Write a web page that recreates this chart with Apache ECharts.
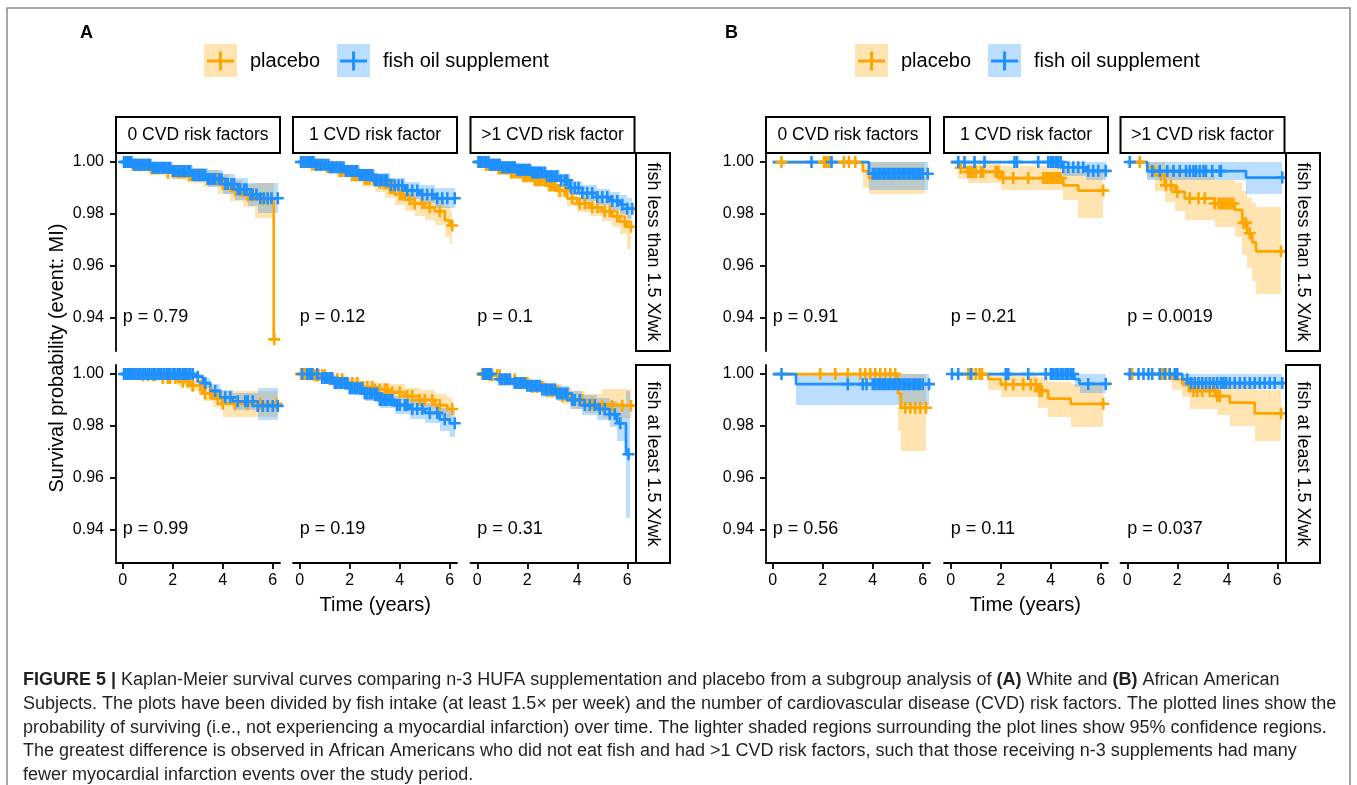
<!DOCTYPE html>
<html>
<head>
<meta charset="utf-8">
<script src="https://cdn.jsdelivr.net/npm/echarts@6/dist/echarts.min.js"></script>
<style>html,body{margin:0;padding:0;background:#fff}#chart{width:1357px;height:785px}</style>
</head>
<body>
<div id="chart"></div>
<script>
// ---------------- DATA ----------------
const xTicks = [0, 2, 4, 6];
const yTicks = [0.94, 0.96, 0.98, 1.00];
const riskFactorLabels = ['0 CVD risk factors', '1 CVD risk factor', '>1 CVD risk factor'];
const fishIntakeLabels = ['fish less than 1.5 X/wk', 'fish at least 1.5 X/wk'];
const armNames = ['placebo', 'fish oil supplement'];
const pValuesA = ['p = 0.79', 'p = 0.12', 'p = 0.1', 'p = 0.99', 'p = 0.19', 'p = 0.31'];
const pValuesB = ['p = 0.91', 'p = 0.21', 'p = 0.0019', 'p = 0.56', 'p = 0.11', 'p = 0.037'];

// step rows: [time, survival, lower95, upper95]; last row = end of follow-up
// ---- A (White), fish less than 1.5 X/wk ----
const A_less_0_placebo = [[0,1,1,1],[0.3,0.999,0.9975,1],[1.0,0.9975,0.9955,0.9995],[1.8,0.996,0.9935,0.9985],[2.6,0.995,0.992,0.9978],[3.2,0.9935,0.9902,0.9968],[3.8,0.9915,0.9878,0.9952],[4.3,0.989,0.9848,0.9932],[4.8,0.987,0.9825,0.9915],[5.3,0.9855,0.9785,0.992],[6.04,0.9315,0.9315,0.9315],[6.06,0.9315,0.9315,0.9315]];
const A_less_0_placeboCens = [0.15,0.25,0.4,0.55,0.7,0.8,0.95,1.15,1.25,1.4,1.5,1.65,1.8,2.05,2.2,2.3,2.4,2.5,2.65,2.75,2.9,3.0,3.15,3.4,3.5,3.6,3.75,4.0,4.2,4.5,4.7,5.0,5.2,5.6,5.8,6.06];
const A_less_0_fish = [[0,1,1,1],[0.4,0.999,0.998,1],[1.2,0.9978,0.996,0.9995],[2.0,0.9965,0.9942,0.9988],[2.8,0.995,0.9922,0.9978],[3.4,0.9935,0.9902,0.9968],[4.0,0.9915,0.9878,0.9952],[4.5,0.9895,0.9853,0.9937],[5.0,0.9875,0.983,0.992],[5.4,0.986,0.9805,0.9918],[6.2,0.986,0.9805,0.9918]];
const A_less_0_fishCens = [0.05,0.1,0.15,0.2,0.3,0.35,0.45,0.5,0.55,0.65,0.7,0.75,0.85,0.9,1.0,1.05,1.1,1.2,1.3,1.35,1.45,1.55,1.6,1.7,1.8,1.9,2.0,2.1,2.2,2.25,2.35,2.4,2.5,2.6,2.7,2.8,2.9,3.0,3.1,3.2,3.3,3.4,3.5,3.6,3.7,3.85,3.95,4.1,4.2,4.35,4.45,4.6,4.7,4.85,4.95,5.1,5.2,5.35,5.5,5.65,5.8,5.95,6.2];

const A_less_1_placebo = [[0,1,1,1],[0.5,0.999,0.998,1],[1.0,0.998,0.9962,0.9995],[1.5,0.9965,0.9942,0.9988],[2.0,0.995,0.9922,0.9978],[2.5,0.9935,0.9903,0.9967],[3.0,0.992,0.9885,0.9955],[3.4,0.99,0.9862,0.9938],[3.8,0.9875,0.9833,0.9917],[4.2,0.9855,0.981,0.99],[4.6,0.984,0.9793,0.9887],[5.0,0.9825,0.9775,0.9875],[5.4,0.981,0.9755,0.9862],[5.8,0.9775,0.971,0.9832],[6.0,0.9755,0.9685,0.9815],[6.1,0.9755,0.9685,0.9815]];
const A_less_1_placeboCens = [0.1,0.2,0.3,0.35,0.5,0.6,0.7,0.8,0.9,1.1,1.2,1.3,1.45,1.6,1.7,1.8,1.95,2.1,2.2,2.3,2.45,2.6,2.7,2.8,2.95,3.2,3.35,3.6,3.7,4.0,4.1,4.4,4.6,4.9,5.2,5.6,6.1];
const A_less_1_fish = [[0,1,1,1],[0.6,0.999,0.998,1],[1.2,0.998,0.9963,0.9995],[1.8,0.9965,0.9945,0.9985],[2.4,0.995,0.9927,0.9973],[3.0,0.993,0.9903,0.9957],[3.6,0.991,0.988,0.994],[4.2,0.989,0.9858,0.9922],[4.8,0.9875,0.984,0.991],[5.4,0.986,0.9822,0.9898],[6.2,0.986,0.9822,0.9898]];
const A_less_1_fishCens = [0.05,0.15,0.25,0.35,0.4,0.5,0.55,0.65,0.7,0.8,0.85,0.95,1.05,1.15,1.2,1.3,1.35,1.45,1.5,1.6,1.65,1.75,1.85,1.9,2.0,2.1,2.15,2.25,2.3,2.4,2.45,2.55,2.6,2.7,2.75,2.85,2.9,3.0,3.1,3.2,3.3,3.4,3.5,3.65,3.8,3.95,4.1,4.3,4.5,4.7,4.9,5.1,5.3,5.5,5.7,5.9,6.2];

const A_less_2_placebo = [[0,1,1,1],[0.3,0.999,0.998,1],[0.8,0.9975,0.996,0.999],[1.3,0.996,0.9942,0.9978],[1.8,0.9945,0.9925,0.9965],[2.3,0.993,0.9907,0.9953],[2.8,0.991,0.9885,0.9935],[3.2,0.989,0.9863,0.9917],[3.6,0.986,0.983,0.989],[4.0,0.984,0.9808,0.9872],[4.5,0.9825,0.979,0.986],[5.0,0.981,0.9772,0.9848],[5.4,0.979,0.9748,0.9832],[5.7,0.977,0.9722,0.9818],[6.0,0.975,0.9665,0.9795],[6.15,0.975,0.9665,0.9795]];
const A_less_2_placeboCens = [0.05,0.1,0.2,0.25,0.35,0.4,0.5,0.6,0.65,0.75,0.85,0.9,1.0,1.1,1.15,1.25,1.35,1.4,1.5,1.6,1.7,1.75,1.85,1.9,2.0,2.1,2.2,2.3,2.4,2.5,2.6,2.7,2.9,3.0,3.1,3.3,3.5,3.8,4.1,4.3,4.6,4.8,5.1,5.3,5.6,5.9,6.15];
const A_less_2_fish = [[0,1,1,1],[0.5,0.999,0.998,1],[1.0,0.998,0.9965,0.9995],[1.6,0.997,0.9952,0.9988],[2.2,0.996,0.994,0.998],[2.8,0.9945,0.9922,0.9968],[3.3,0.993,0.9905,0.9955],[3.7,0.99,0.9872,0.9928],[4.2,0.988,0.985,0.991],[4.8,0.9865,0.9833,0.9897],[5.3,0.985,0.9815,0.9885],[5.7,0.9835,0.9798,0.9872],[6.0,0.982,0.978,0.986],[6.2,0.982,0.978,0.986]];
const A_less_2_fishCens = [0.05,0.1,0.15,0.2,0.3,0.35,0.45,0.5,0.6,0.65,0.7,0.8,0.85,0.9,1.0,1.05,1.1,1.2,1.25,1.3,1.4,1.45,1.5,1.6,1.65,1.7,1.8,1.85,1.9,2.0,2.05,2.1,2.2,2.25,2.3,2.4,2.45,2.5,2.6,2.7,2.8,2.9,3.0,3.1,3.2,3.35,3.5,3.6,3.75,3.9,4.05,4.2,4.4,4.6,4.8,5.0,5.2,5.4,5.6,5.8,6.0,6.2];

// ---- A (White), fish at least 1.5 X/wk ----
const A_least_0_placebo = [[0,1,1,1],[0.8,0.9995,0.9988,1],[1.6,0.9985,0.9972,0.9998],[2.2,0.997,0.9952,0.9988],[2.7,0.9955,0.9933,0.9977],[3.2,0.9925,0.9897,0.9953],[3.6,0.9905,0.9873,0.9937],[4.0,0.9885,0.9835,0.9935],[6.15,0.9885,0.9835,0.9935]];
const A_least_0_placeboCens = [0.2,0.3,0.6,0.8,1.0,1.2,1.3,1.6,1.8,1.9,2.1,2.4,2.6,2.8,3.1,3.3,3.5,3.8,4.0,4.5,5.0,5.5,6.15];
const A_least_0_fish = [[0,1,1,1],[2.9,0.999,0.998,1],[3.2,0.9965,0.9945,0.9985],[3.5,0.9935,0.991,0.996],[3.9,0.991,0.988,0.994],[4.4,0.9895,0.9862,0.9928],[5.4,0.9877,0.9822,0.9945],[6.2,0.9877,0.9822,0.9945]];
const A_least_0_fishCens = [0.05,0.1,0.15,0.2,0.3,0.35,0.4,0.5,0.55,0.65,0.7,0.8,0.9,1.0,1.05,1.15,1.2,1.3,1.4,1.5,1.55,1.65,1.75,1.8,1.9,2.0,2.1,2.2,2.3,2.4,2.5,2.55,2.65,2.7,2.8,3.0,3.3,3.7,4.1,4.3,4.6,4.9,5.0,5.2,5.4,5.6,5.8,6.0,6.2];

const A_least_1_placebo = [[0,1,1,1],[0.6,0.9995,0.9988,1],[1.2,0.998,0.9965,0.9995],[1.8,0.9965,0.9945,0.9985],[2.4,0.995,0.9927,0.9973],[3.0,0.994,0.9913,0.9967],[3.6,0.993,0.99,0.996],[4.2,0.9915,0.9882,0.9948],[4.8,0.99,0.9862,0.9938],[5.4,0.988,0.9838,0.9922],[5.9,0.9865,0.982,0.991],[6.1,0.9865,0.982,0.991]];
const A_least_1_placeboCens = [0.05,0.1,0.2,0.3,0.4,0.5,0.6,0.7,0.75,0.9,1.0,1.2,1.3,1.5,1.7,1.9,2.1,2.3,2.5,2.7,2.9,3.0,3.2,3.4,3.5,3.7,4.0,4.3,4.5,4.8,5.0,5.3,5.6,6.1];
const A_least_1_fish = [[0,1,1,1],[0.8,0.9985,0.9972,0.9998],[1.4,0.9965,0.9945,0.9985],[2.0,0.9945,0.992,0.997],[2.6,0.9925,0.9897,0.9953],[3.2,0.99,0.9868,0.9932],[3.8,0.988,0.9845,0.9915],[4.4,0.9865,0.9828,0.9902],[5.0,0.985,0.981,0.989],[5.6,0.9825,0.978,0.987],[6.0,0.981,0.9758,0.9862],[6.2,0.981,0.9758,0.9862]];
const A_least_1_fishCens = [0.1,0.3,0.4,0.5,0.7,0.9,1.0,1.1,1.2,1.3,1.4,1.5,1.6,1.7,1.8,1.9,2.0,2.1,2.2,2.3,2.4,2.5,2.6,2.7,2.8,2.9,3.0,3.1,3.2,3.3,3.4,3.5,3.6,3.7,3.9,4.0,4.2,4.3,4.5,4.7,4.9,5.2,5.5,5.8,6.2];

const A_least_2_placebo = [[0,1,1,1],[0.5,0.9995,0.9988,1],[1.0,0.998,0.9965,0.9995],[1.6,0.9965,0.9945,0.9985],[2.2,0.995,0.9925,0.9975],[2.8,0.9935,0.9907,0.9963],[3.4,0.9915,0.9883,0.9947],[3.8,0.99,0.9865,0.9935],[4.3,0.9885,0.9848,0.9922],[5.0,0.9878,0.9832,0.9942],[6.15,0.9878,0.9832,0.9942]];
const A_least_2_placeboCens = [0.2,0.3,0.35,0.5,0.6,0.8,0.9,1.1,1.3,1.5,1.6,1.8,2.0,2.2,2.4,2.6,2.8,3.0,3.2,3.4,3.6,3.9,4.2,4.6,5.0,5.4,5.8,6.15];
const A_least_2_fish = [[0,1,1,1],[0.8,0.998,0.9965,0.9995],[1.4,0.9965,0.9945,0.9985],[2.0,0.9955,0.9932,0.9978],[2.6,0.994,0.9913,0.9967],[3.2,0.9925,0.9895,0.9955],[3.7,0.99,0.9865,0.9935],[4.2,0.988,0.9842,0.9918],[4.8,0.9865,0.9823,0.9907],[5.3,0.9845,0.9795,0.9895],[5.6,0.981,0.974,0.9882],[5.95,0.969,0.9445,0.9935],[6.1,0.969,0.9445,0.9935]];
const A_least_2_fishCens = [0.25,0.3,0.35,0.4,0.45,0.5,0.55,0.9,1.0,1.1,1.2,1.3,1.5,1.6,1.7,1.8,1.9,2.0,2.1,2.2,2.3,2.4,2.5,2.6,2.7,2.8,2.9,3.0,3.1,3.2,3.3,3.4,3.5,3.6,3.8,3.9,4.1,4.3,4.5,4.7,4.9,5.1,5.3,5.5,5.72,6.05];

// ---- B (African American), fish less than 1.5 X/wk ----
const B_less_0_placebo = [[0,1,1,1],[3.6,0.9965,0.99,1],[3.85,0.9938,0.9876,1],[6.1,0.9938,0.9876,1]];
const B_less_0_placeboCens = [0.35,2.05,2.15,2.25,2.85,3.05,3.3];
const B_less_0_fish = [[0,1,1,1],[3.85,0.9955,0.9893,1],[6.2,0.9955,0.9893,1]];
const B_less_0_fishCens = [1.55,2.35,4.0,4.1,4.2,4.3,4.4,4.5,4.6,4.7,4.8,4.9,5.0,5.1,5.2,5.3,5.4,5.5,5.6,5.7,5.8,5.9,6.0,6.2];

const B_less_1_placebo = [[0,1,1,1],[0.3,0.9978,0.9935,1],[0.7,0.9962,0.992,1],[2.0,0.9938,0.9893,0.9985],[4.5,0.991,0.9852,0.997],[5.1,0.989,0.9783,0.996],[6.1,0.989,0.9783,0.996]];
const B_less_1_placeboCens = [0.4,0.7,0.8,0.9,1.0,1.2,1.3,1.8,1.9,2.1,2.5,3.1,3.7,3.8,3.9,4.0,4.1,4.2,4.3,4.4,6.1];
const B_less_1_fish = [[0,1,1,1],[4.5,0.998,0.9948,1],[5.4,0.9966,0.9932,1],[6.2,0.9966,0.9932,1]];
const B_less_1_fishCens = [0.3,0.55,0.95,1.35,2.55,2.65,3.5,3.9,4.0,4.1,4.2,4.3,4.4,4.5,4.7,4.9,5.1,5.3,5.5,5.7,5.9,6.2];

const B_less_2_placebo = [[0,1,1,1],[0.8,0.998,0.994,1],[1.1,0.995,0.989,1],[1.5,0.991,0.9845,0.998],[1.9,0.9885,0.981,0.996],[2.3,0.986,0.9775,0.9945],[3.5,0.984,0.975,0.993],[4.3,0.9815,0.971,0.992],[4.6,0.9765,0.964,0.989],[4.8,0.9725,0.959,0.986],[5.0,0.969,0.954,0.984],[5.15,0.9655,0.949,0.9825],[6.15,0.9655,0.949,0.9825]];
const B_less_2_placeboCens = [0.5,1.35,1.55,1.75,2.0,2.5,2.85,3.1,3.5,3.65,3.75,3.85,3.95,4.05,4.15,4.25,4.65,4.75,4.9,6.15];
const B_less_2_fish = [[0,1,1,1],[0.8,0.9965,0.9932,1],[4.75,0.994,0.9875,1],[6.2,0.994,0.9875,1]];
const B_less_2_fishCens = [0.1,1.0,1.3,1.6,1.85,2.1,2.35,2.5,2.65,2.75,2.9,3.05,3.15,3.4,3.7,3.75,6.2];

// ---- B (African American), fish at least 1.5 X/wk ----
const B_least_0_placebo = [[0,1,1,1],[5.0,0.9925,0.978,1],[5.13,0.987,0.9703,1],[6.13,0.987,0.9703,1]];
const B_least_0_placeboCens = [1.9,2.5,3.0,3.5,3.7,3.9,4.1,4.3,4.5,4.7,4.9,5.3,5.5,5.7,5.9,6.13];
const B_least_0_fish = [[0,1,1,1],[0.93,0.9961,0.988,1],[6.25,0.9961,0.988,1]];
const B_least_0_fishCens = [0.35,3.0,3.6,3.75,4.0,4.1,4.2,4.3,4.4,4.5,4.6,4.7,4.8,4.9,5.0,5.1,5.2,5.3,5.4,5.5,5.6,5.7,5.8,5.9,6.0,6.25];

const B_least_1_placebo = [[0,1,1,1],[1.5,0.998,0.994,1],[2.0,0.996,0.991,1],[3.5,0.9935,0.987,0.999],[3.9,0.9905,0.9835,0.997],[4.8,0.9885,0.9795,0.996],[6.1,0.9885,0.9795,0.996]];
const B_least_1_placeboCens = [0.7,0.85,1.0,1.15,1.25,2.2,2.5,2.9,3.2,3.4,3.55,3.65,6.1];
const B_least_1_fish = [[0,1,1,1],[4.95,0.998,0.995,1],[5.15,0.9962,0.9925,1],[6.2,0.9962,0.9925,1]];
const B_least_1_fishCens = [0.05,0.3,0.8,2.2,2.3,3.1,3.8,4.0,4.1,4.2,4.3,4.4,4.5,4.6,4.7,4.8,4.9,5.5,6.2];

const B_least_2_placebo = [[0,1,1,1],[1.8,0.998,0.994,1],[2.2,0.9962,0.991,1],[2.5,0.9935,0.9865,0.999],[3.6,0.9915,0.984,0.998],[4.1,0.989,0.98,0.997],[5.1,0.9848,0.9742,0.994],[6.15,0.9848,0.9742,0.994]];
const B_least_2_placeboCens = [0.2,1.3,1.4,1.55,1.7,2.45,2.65,2.8,3.0,3.3,3.5,3.6,3.7,6.15];
const B_least_2_fish = [[0,1,1,1],[2.2,0.998,0.995,1],[2.45,0.9965,0.9942,1],[6.2,0.9965,0.9942,1]];
const B_least_2_fishCens = [0.1,0.45,0.65,0.85,1.0,1.3,1.5,1.7,1.9,2.0,2.4,2.55,2.7,2.85,3.0,3.15,3.3,3.45,3.6,3.75,3.85,3.95,4.1,4.3,4.5,4.7,4.9,5.1,5.3,5.5,5.7,5.9,6.2];

const captionLines = [
  '{b|FIGURE 5 |} Kaplan-Meier survival curves comparing n-3 HUFA supplementation and placebo from a subgroup analysis of {b|(A)} White and {b|(B)} African American',
  'Subjects. The plots have been divided by fish intake (at least 1.5\u00d7 per week) and the number of cardiovascular disease (CVD) risk factors. The plotted lines show the',
  'probability of surviving (i.e., not experiencing a myocardial infarction) over time. The lighter shaded regions surrounding the plot lines show 95% confidence regions.',
  'The greatest difference is observed in African Americans who did not eat fish and had >1 CVD risk factors, such that those receiving n-3 supplements had many',
  'fewer myocardial infarction events over the study period.'
];

// ---------------- PANEL TABLE ----------------
const panelTable = [
  ['A',0,0,pValuesA[0],A_less_0_placebo,A_less_0_placeboCens,A_less_0_fish,A_less_0_fishCens],
  ['A',0,1,pValuesA[1],A_less_1_placebo,A_less_1_placeboCens,A_less_1_fish,A_less_1_fishCens],
  ['A',0,2,pValuesA[2],A_less_2_placebo,A_less_2_placeboCens,A_less_2_fish,A_less_2_fishCens],
  ['A',1,0,pValuesA[3],A_least_0_placebo,A_least_0_placeboCens,A_least_0_fish,A_least_0_fishCens],
  ['A',1,1,pValuesA[4],A_least_1_placebo,A_least_1_placeboCens,A_least_1_fish,A_least_1_fishCens],
  ['A',1,2,pValuesA[5],A_least_2_placebo,A_least_2_placeboCens,A_least_2_fish,A_least_2_fishCens],
  ['B',0,0,pValuesB[0],B_less_0_placebo,B_less_0_placeboCens,B_less_0_fish,B_less_0_fishCens],
  ['B',0,1,pValuesB[1],B_less_1_placebo,B_less_1_placeboCens,B_less_1_fish,B_less_1_fishCens],
  ['B',0,2,pValuesB[2],B_less_2_placebo,B_less_2_placeboCens,B_less_2_fish,B_less_2_fishCens],
  ['B',1,0,pValuesB[3],B_least_0_placebo,B_least_0_placeboCens,B_least_0_fish,B_least_0_fishCens],
  ['B',1,1,pValuesB[4],B_least_1_placebo,B_least_1_placeboCens,B_least_1_fish,B_least_1_fishCens],
  ['B',1,2,pValuesB[5],B_least_2_placebo,B_least_2_placeboCens,B_least_2_fish,B_least_2_fishCens]
];

// ---------------- LAYOUT / STYLE ----------------
const FONT = "'Liberation Sans', Arial, Helvetica, sans-serif";
const CAP_FONT = "'Liberation Sans Narrow', 'Liberation Sans', Arial, sans-serif";
const TXT = '#000';
const ORANGE = '#FFA500', BLUE = '#1E90FF';
const ORANGE_BAND = 'rgba(255,165,0,0.3)', BLUE_BAND = 'rgba(30,144,255,0.3)';
const colLeft = {A: [116, 293, 470.5], B: [766, 944, 1120.5]};
const rowTop = [153, 365];
const PW = 164, PH = 198;
const X_MIN = -0.27, X_MAX = 6.29, Y_MIN = 0.927, Y_MAX = 1.0035;
const PLUS_SYMBOL = 'path://M4.7,0h2.6v4.7h4.7v2.6h-4.7v4.7h-2.6v-4.7h-4.7v-2.6h4.7z';
const PLUS_ICON = 'path://M0,8h27v3h-27z M12,0h3v19h-3z';

function survAt(steps, t) {
  let s = steps[0][1];
  for (const r of steps) { if (r[0] <= t + 1e-9) s = r[1]; else break; }
  return s;
}
function bandData(steps) {
  const out = [];
  for (let i = 0; i < steps.length - 1; i++) out.push([steps[i][0], steps[i + 1][0], steps[i][2], steps[i][3]]);
  return out;
}
function bandSeries(i, steps, fill) {
  return {
    type: 'custom', xAxisIndex: i, yAxisIndex: i, silent: true, z: 1,
    data: bandData(steps), encode: {x: [0, 1], y: [2, 3]},
    renderItem: function (params, api) {
      const a = api.coord([api.value(0), api.value(3)]);
      const b = api.coord([api.value(1), api.value(2)]);
      const x0 = Math.round(a[0]), x1 = Math.round(b[0]);
      const y0 = Math.round(a[1]), y1 = Math.round(b[1]);
      return {type: 'rect', shape: {x: x0, y: y0, width: x1 - x0, height: y1 - y0}, style: {fill: fill}};
    }
  };
}
function lineSeries(i, steps, name, color) {
  return {
    type: 'line', name: name, xAxisIndex: i, yAxisIndex: i, step: 'end', symbol: 'none', silent: true, z: 2,
    data: steps.map(r => [r[0], r[1]]),
    lineStyle: {color: color, width: 2.7}, itemStyle: {color: color}
  };
}
function censorSeries(i, steps, cens, name, color) {
  return {
    type: 'scatter', name: name, xAxisIndex: i, yAxisIndex: i, silent: true, z: 3,
    symbol: PLUS_SYMBOL, symbolSize: 12,
    data: cens.map(t => [t, survAt(steps, t)]),
    itemStyle: {color: color, opacity: 1}
  };
}

const grid = [], xAxis = [], yAxis = [], series = [], graphic = [];

panelTable.forEach((p, i) => {
  const [fig, row, col, pval, pla, plaC, fish, fishC] = p;
  const left = colLeft[fig][col], top = rowTop[row];
  grid.push({left: left, top: top, width: PW, height: PH});
  xAxis.push({
    gridIndex: i, type: 'value', min: X_MIN, max: X_MAX,
    axisLine: {show: row === 1, onZero: false, lineStyle: {color: '#000', width: 1.8}},
    axisTick: {show: row === 1, length: 6, customValues: xTicks, lineStyle: {color: '#000', width: 1.8}},
    axisLabel: {show: row === 1, customValues: xTicks, margin: 10, fontSize: 16, color: TXT, fontFamily: FONT},
    splitLine: {show: false}
  });
  yAxis.push({
    gridIndex: i, type: 'value', min: Y_MIN, max: Y_MAX,
    axisLine: {show: col === 0, onZero: false, lineStyle: {color: '#000', width: 1.8}},
    axisTick: {show: col === 0, length: 6, customValues: yTicks, lineStyle: {color: '#000', width: 1.8}},
    axisLabel: {show: col === 0, customValues: yTicks, formatter: v => v.toFixed(2), margin: 12, fontSize: 16, color: TXT, fontFamily: FONT},
    splitLine: {show: false}
  });
  series.push(bandSeries(i, pla, ORANGE_BAND));
  series.push(bandSeries(i, fish, BLUE_BAND));
  series.push(lineSeries(i, pla, armNames[0], ORANGE));
  series.push(lineSeries(i, fish, armNames[1], BLUE));
  series.push(censorSeries(i, pla, plaC, armNames[0], ORANGE));
  series.push(censorSeries(i, fish, fishC, armNames[1], BLUE));
  series.push({
    type: 'scatter', xAxisIndex: i, yAxisIndex: i, silent: true, symbolSize: 0, z: 4,
    data: [[0, 0.94]],
    label: {show: true, formatter: pval, position: 'right', distance: 0, fontSize: 18, color: '#000', opacity: 1, fontFamily: FONT}
  });
  if (row === 0) {
    graphic.push({type: 'rect', shape: {x: left, y: 117, width: PW, height: 36}, style: {fill: '#fff', stroke: '#000', lineWidth: 2}, z: 5});
    graphic.push({type: 'text', x: left + PW / 2, y: 135.5, z: 6,
      style: {text: riskFactorLabels[col], fontSize: 17.5, fontFamily: FONT, fill: TXT, align: 'center', verticalAlign: 'middle'}});
  }
  if (col === 2) {
    const sx = left + PW + 1.5;
    graphic.push({type: 'rect', shape: {x: sx, y: top, width: 34, height: PH}, style: {fill: '#fff', stroke: '#000', lineWidth: 2}, z: 5});
    graphic.push({type: 'text', x: sx + 17, y: top + PH / 2, rotation: -Math.PI / 2, z: 6,
      style: {text: fishIntakeLabels[row], fontSize: 18, fontFamily: FONT, fill: TXT, align: 'center', verticalAlign: 'middle'}});
  }
});

['A', 'B'].forEach(fig => {
  const l = colLeft[fig][0], r = colLeft[fig][2] + PW;
  graphic.push({type: 'text', x: (l + r) / 2, y: 605, z: 6,
    style: {text: 'Time (years)', fontSize: 20, fontFamily: FONT, fill: TXT, align: 'center', verticalAlign: 'middle'}});
});
graphic.push({type: 'text', x: 57, y: 358, rotation: Math.PI / 2, z: 6,
  style: {text: 'Survival probability (event: MI)', fontSize: 20, fontFamily: FONT, fill: TXT, align: 'center', verticalAlign: 'middle'}});

graphic.push({type: 'text', x: 80, y: 33, z: 6, style: {text: 'A', fontSize: 18, fontWeight: 'bold', fontFamily: FONT, fill: TXT, align: 'left', verticalAlign: 'middle'}});
graphic.push({type: 'text', x: 725, y: 33, z: 6, style: {text: 'B', fontSize: 18, fontWeight: 'bold', fontFamily: FONT, fill: TXT, align: 'left', verticalAlign: 'middle'}});

[[204, ORANGE_BAND], [337, BLUE_BAND], [855, ORANGE_BAND], [988, BLUE_BAND]].forEach(k => {
  graphic.push({type: 'rect', shape: {x: k[0], y: 44, width: 33, height: 33}, style: {fill: k[1]}, z: 0});
});

graphic.push({type: 'rect', shape: {x: 7, y: 8, width: 1343, height: 800}, style: {fill: 'none', stroke: '#8a8a8a', lineWidth: 1.5}, z: 0});

const mctx = document.createElement('canvas').getContext('2d');
mctx.font = '100px ' + CAP_FONT;
const capSize = Math.round(100 * 1311 / mctx.measureText(captionLines[1]).width * 10) / 10;
captionLines.forEach((line, k) => {
  graphic.push({type: 'text', x: 23, y: 680 + k * 23.8, z: 6,
    style: {text: line, fontSize: capSize, fontFamily: CAP_FONT, fill: '#231f20', align: 'left', verticalAlign: 'middle',
      rich: {b: {fontWeight: 'bold', fontSize: capSize, fontFamily: CAP_FONT, fill: '#231f20'}}}});
});

const legendCommon = {
  orient: 'horizontal', top: 51, padding: 0, itemWidth: 27, itemHeight: 19, itemGap: 20,
  selectedMode: false, data: [{name: armNames[0], icon: PLUS_ICON}, {name: armNames[1], icon: PLUS_ICON}],
  formatter: n => '{g|}' + n,
  textStyle: {fontSize: 20, fontFamily: FONT, color: TXT, rich: {g: {width: 11}}}
};

const chart = echarts.init(document.getElementById('chart'), null, {renderer: 'canvas'});
chart.setOption({
  animation: false,
  backgroundColor: '#fff',
  legend: [Object.assign({left: 207}, legendCommon), Object.assign({left: 858}, legendCommon)],
  grid: grid, xAxis: xAxis, yAxis: yAxis, series: series, graphic: graphic
});
</script>
</body>
</html>
